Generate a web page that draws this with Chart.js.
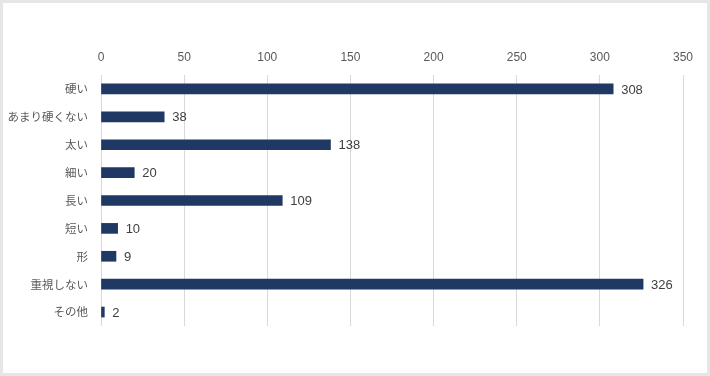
<!DOCTYPE html>
<html lang="ja">
<head>
  <meta charset="UTF-8">
  <title>Bar Chart</title>
  <script src="https://cdn.jsdelivr.net/npm/chart.js"></script>
  <style>
    html, body { margin: 0; padding: 0; background: #fff; }
    .frame {
      width: 710px;
      height: 376px;
      box-sizing: border-box;
      border: 3px solid #e6e6e6;
      background: #fff;
    }
    .frame canvas { display: block; }
  </style>
</head>
<body>
  <div class="frame">
    <canvas id="chart" width="704" height="370"></canvas>
  </div>

  <script>
    const categories = ['硬い', 'あまり硬くない', '太い', '細い', '長い', '短い', '形', '重視しない', 'その他'];
    const counts = [308, 38, 138, 20, 109, 10, 9, 326, 2];
    const tickMax = 350;
    const tickStep = 50;

    // draws the value to the right of each bar
    const valueLabels = {
      id: 'valueLabels',
      afterDatasetsDraw(chart) {
        const ctx = chart.ctx;
        const meta = chart.getDatasetMeta(0);
        ctx.save();
        ctx.font = '13px "Liberation Sans", Arial, sans-serif';
        ctx.fillStyle = '#404040';
        ctx.textAlign = 'left';
        ctx.textBaseline = 'middle';
        meta.data.forEach((bar, i) => {
          ctx.fillText(counts[i], bar.x + 8, bar.y + 1);
        });
        ctx.restore();
      }
    };

    new Chart(document.getElementById('chart'), {
      type: 'bar',
      data: {
        labels: categories,
        datasets: [{
          data: counts,
          backgroundColor: '#1f3864',
          barThickness: 10
        }]
      },
      options: {
        indexAxis: 'y',
        responsive: false,
        animation: false,
        layout: { padding: { left: 0, right: 24, top: 0, bottom: 47 } },
        plugins: {
          legend: { display: false },
          tooltip: { enabled: false }
        },
        scales: {
          x: {
            position: 'top',
            min: 0,
            max: tickMax,
            border: { display: false },
            grid: { color: '#d9d9d9', drawTicks: false },
            ticks: {
              stepSize: tickStep,
              padding: 10,
              color: '#595959',
              font: { family: '"Liberation Sans", Arial, sans-serif', size: 12 }
            },
            afterFit(scale) { scale.height = 72; }
          },
          y: {
            border: { display: false },
            grid: { display: false },
            ticks: {
              padding: 5,
              color: '#595959',
              font: { family: '"Noto Sans CJK JP", sans-serif', size: 11.5 }
            },
            afterFit(scale) { scale.width = 98; }
          }
        }
      },
      plugins: [valueLabels]
    });
  </script>
</body>
</html>
